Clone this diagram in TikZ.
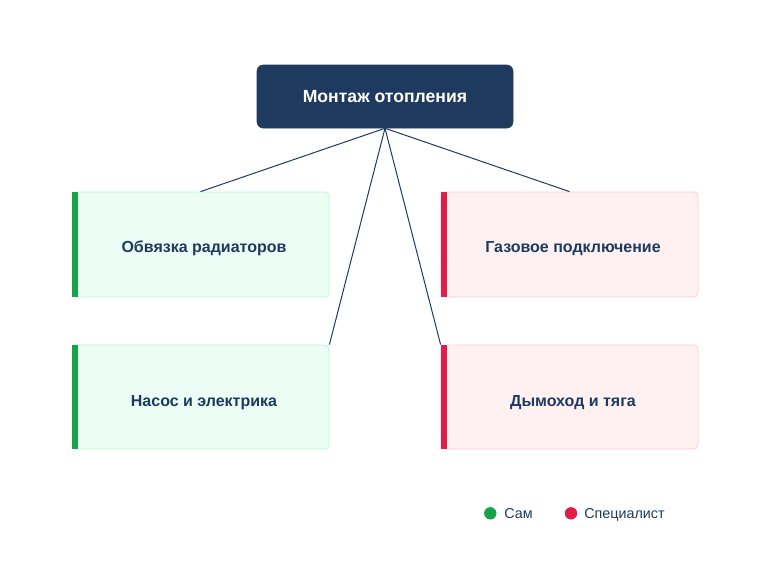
\documentclass[tikz,border=0pt]{standalone}
\usepackage{fontspec}
\setmainfont{Liberation Sans}
\definecolor{navy}{HTML}{1E3A5F}
\definecolor{gbar}{HTML}{16A34A}
\definecolor{gfill}{HTML}{ECFDF5}
\definecolor{gline}{HTML}{BBF7D0}
\definecolor{rbar}{HTML}{E11D48}
\definecolor{rfill}{HTML}{FFF1F2}
\definecolor{rline}{HTML}{FECDD3}
\tikzset{
  rootbox/.style={fill=navy, draw=navy, rounded corners=4.5pt, minimum width={256*0.75pt}, minimum height={63*0.75pt}, inner sep=0pt},
  roottext/.style={text=white, font=\fontsize{13.2pt}{15pt}\selectfont\bfseries, anchor=base, inner sep=0pt},
  childbox/.style={rounded corners=3pt, line width=0.6pt, minimum width={257*0.75pt}, minimum height={105*0.75pt}, inner sep=0pt},
  childtext/.style={text=navy, font=\fontsize{12pt}{14pt}\selectfont\bfseries, anchor=base, inner sep=0pt},
  selfbox/.style={childbox, fill=gfill, draw=gline},
  probox/.style={childbox, fill=rfill, draw=rline},
  link/.style={draw=navy, line width=0.75pt},
  legtext/.style={text=navy, font=\fontsize{10.75pt}{12pt}\selectfont, anchor=base west, inner sep=0pt},
}
\begin{document}
\begin{tikzpicture}[x=0.75pt, y=-0.75pt]
\useasboundingbox (0,0) rectangle (770,578);
\node[rootbox] (root) at (385,96.5) {};
\node[roottext] (rt) at (385,102.3) {Монтаж отопления};
\node[selfbox] (a) at (200.5,244.5) {};
\node[probox] (b) at (569.5,244.5) {};
\node[selfbox, minimum height={104*0.75pt}] (c) at (200.5,397) {};
\node[probox, minimum height={104*0.75pt}] (d) at (569.5,397) {};
\foreach \n/\col in {a/gbar,b/rbar,c/gbar,d/rbar}{
  \fill[\col] (\n.south west) rectangle ([xshift=6*0.75pt]\n.north west);
}
\node[childtext] (ta) at (204,252) {Обвязка радиаторов};
\node[childtext] (tb) at (573,252) {Газовое подключение};
\node[childtext] (tc) at (204,406) {Насос и электрика};
\node[childtext] (td) at (573,406) {Дымоход и тяга};
\draw[link] (root.south) -- (a.north);
\draw[link] (root.south) -- (b.north);
\draw[link] (root.south) -- (c.north east);
\draw[link] (root.south) -- (d.north west);
\fill[gbar] (490.3,513.3) circle (6.2);
\node[legtext] (l1) at (504,518.7) {Сам};
\fill[rbar] (571,513.3) circle (6.2);
\node[legtext] (l2) at (584,518.7) {Специалист};
\end{tikzpicture}
\end{document}
